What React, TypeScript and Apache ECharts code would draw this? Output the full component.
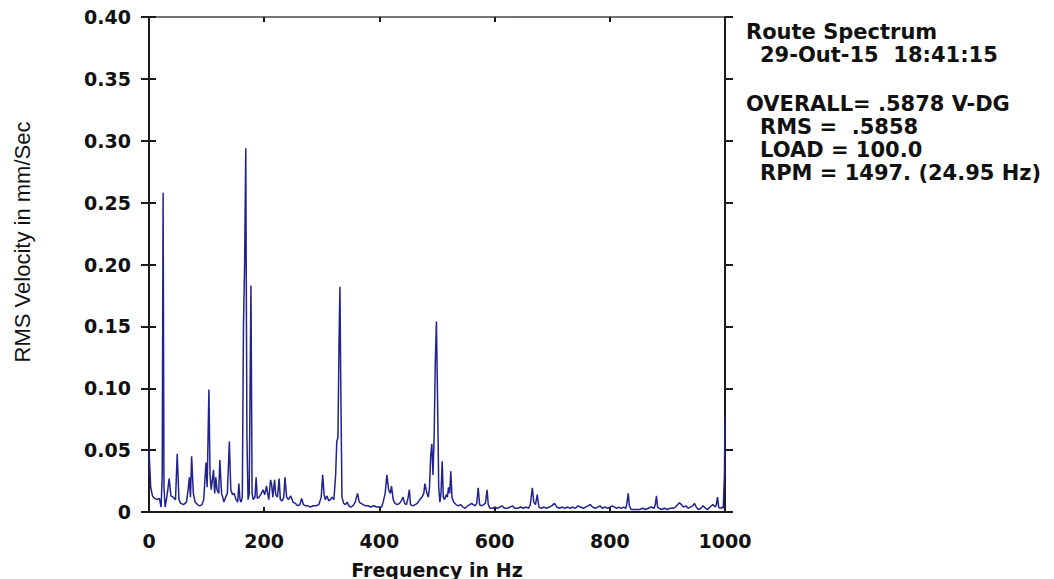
import React, { useEffect, useRef } from "react";
import * as echarts from "echarts";

const freqHz: number[] = [
  0, 3, 6, 10, 14, 18, 21, 23, 24.5, 26, 28, 31, 35, 38, 42, 46, 49, 52, 55, 60,
  65, 68, 70, 72, 74, 77, 80, 84, 88, 92, 95, 99, 101, 104, 106, 108, 112, 114, 116, 118,
  121, 123, 126, 128, 130, 133, 136, 139.5, 142, 145, 148, 151, 154, 156, 158, 160, 162, 164, 166, 168,
  170, 172, 174, 177, 179, 181, 184, 186, 188, 191, 194, 198, 201, 204, 206, 208, 211, 213, 215, 218,
  220, 223, 226, 228, 231, 234, 236, 239, 242, 246, 250, 254, 258, 262, 265, 268, 272, 276, 280, 285,
  290, 295, 299, 301.5, 304, 306, 309, 312, 315, 318, 321, 324, 326, 328, 330, 331.5, 333, 335, 338, 341,
  344, 347, 350, 354, 358, 362, 365, 368, 372, 376, 380, 385, 390, 395, 400, 404, 407, 410, 413, 416,
  419, 421, 424, 427, 431, 435, 438, 441, 444, 447, 450, 452, 454, 458, 462, 466, 470, 474, 477, 479,
  482, 485, 487, 489, 491, 493, 495, 497, 499, 501, 503, 505, 507, 509, 511, 513, 516, 518, 520, 522,
  524, 526, 529, 533, 537, 541, 545, 549, 553, 557, 560, 563, 566, 569, 571.5, 574, 577, 581, 584, 587,
  589, 592, 596, 600, 605, 609, 613, 617, 622, 627, 631, 635, 640, 645, 650, 655, 659, 662, 665.5, 668,
  671, 674, 677, 681, 686, 690, 695, 699, 704, 708, 713, 718, 722, 727, 731, 736, 740, 745, 749, 754,
  758, 762, 766, 770, 775, 779, 783, 787, 792, 796, 800, 804, 808, 812, 816, 820, 824, 828, 830, 832,
  834, 837, 842, 847, 852, 857, 862, 867, 872, 877, 879, 881, 883, 886, 890, 895, 900, 905, 910, 914,
  918, 921, 924, 928, 932, 936, 940, 944, 947, 950, 954, 958, 962, 966, 970, 974, 979, 983, 985, 987,
  989, 992, 995, 997, 999, 1000,
];

const rmsVelocity: number[] = [
  0.05, 0.02, 0.013, 0.011, 0.01, 0.011, 0.004, 0.03, 0.258, 0.02, 0.004, 0.012, 0.027, 0.013, 0.012, 0.01, 0.047, 0.01, 0.007, 0.006,
  0.008, 0.018, 0.028, 0.012, 0.045, 0.015, 0.008, 0.006, 0.005, 0.006, 0.01, 0.04, 0.02, 0.099, 0.03, 0.018, 0.034, 0.015, 0.028, 0.018,
  0.015, 0.042, 0.015, 0.012, 0.008, 0.012, 0.015, 0.057, 0.018, 0.014, 0.015, 0.01, 0.008, 0.023, 0.01, 0.008, 0.012, 0.15, 0.2, 0.294,
  0.06, 0.01, 0.015, 0.183, 0.015, 0.01, 0.012, 0.028, 0.011, 0.012, 0.014, 0.018, 0.014, 0.021, 0.015, 0.01, 0.026, 0.022, 0.012, 0.026,
  0.014, 0.012, 0.027, 0.01, 0.009, 0.012, 0.028, 0.012, 0.01, 0.013, 0.008, 0.007, 0.005, 0.006, 0.011, 0.006, 0.005, 0.005, 0.004, 0.005,
  0.005, 0.006, 0.012, 0.03, 0.014, 0.01, 0.013, 0.009, 0.01, 0.012, 0.01, 0.03, 0.057, 0.06, 0.14, 0.182, 0.1, 0.012, 0.007, 0.006,
  0.008, 0.005, 0.004, 0.005, 0.008, 0.015, 0.008, 0.007, 0.006, 0.005, 0.005, 0.004, 0.005, 0.004, 0.004, 0.004, 0.009, 0.015, 0.03, 0.018,
  0.015, 0.021, 0.01, 0.007, 0.006, 0.007, 0.009, 0.012, 0.007, 0.006, 0.012, 0.018, 0.006, 0.005, 0.006, 0.007, 0.01, 0.012, 0.015, 0.023,
  0.016, 0.012, 0.02, 0.045, 0.055, 0.03, 0.06, 0.12, 0.154, 0.09, 0.02, 0.008, 0.015, 0.041, 0.012, 0.01, 0.014, 0.012, 0.02, 0.015,
  0.033, 0.012, 0.008, 0.006, 0.005, 0.006, 0.004, 0.003, 0.005, 0.006, 0.007, 0.006, 0.005, 0.007, 0.0196, 0.006, 0.005, 0.006, 0.007, 0.018,
  0.006, 0.003, 0.003, 0.004, 0.003, 0.004, 0.005, 0.003, 0.003, 0.004, 0.005, 0.003, 0.003, 0.004, 0.003, 0.004, 0.003, 0.006, 0.0196, 0.008,
  0.006, 0.014, 0.004, 0.003, 0.004, 0.003, 0.004, 0.005, 0.007, 0.004, 0.003, 0.004, 0.003, 0.004, 0.003, 0.004, 0.003, 0.005, 0.004, 0.003,
  0.004, 0.005, 0.006, 0.004, 0.003, 0.004, 0.005, 0.003, 0.004, 0.003, 0.004, 0.005, 0.004, 0.003, 0.004, 0.003, 0.004, 0.003, 0.008, 0.015,
  0.005, 0.002, 0.002, 0.002, 0.002, 0.003, 0.002, 0.003, 0.004, 0.003, 0.006, 0.013, 0.004, 0.003, 0.002, 0.003, 0.002, 0.003, 0.003, 0.004,
  0.006, 0.0075, 0.006, 0.004, 0.005, 0.003, 0.004, 0.005, 0.007, 0.004, 0.002, 0.003, 0.005, 0.003, 0.002, 0.004, 0.006, 0.004, 0.006, 0.012,
  0.004, 0.003, 0.004, 0.003, 0.03, 0.076,
];

const infoLines: { text: string; x: number; y: number }[] = [
  { text: "Route Spectrum", x: 746, y: 32 },
  { text: "29-Out-15  18:41:15", x: 760, y: 55 },
  { text: "OVERALL= .5878 V-DG", x: 746, y: 104 },
  { text: "RMS =  .5858", x: 760, y: 127 },
  { text: "LOAD = 100.0", x: 760, y: 150 },
  { text: "RPM = 1497. (24.95 Hz)", x: 760, y: 173 },
];

const FONT = '"DejaVu Sans", "Liberation Sans", Arial, sans-serif';

export default function App() {
  const ref = useRef<HTMLDivElement>(null);
  useEffect(() => {
    if (!ref.current) return;
    const chart = echarts.init(ref.current, undefined, { renderer: "svg" });
    const yBase = {
      type: "value" as const,
      min: 0,
      max: 0.4,
      interval: 0.05,
      splitLine: { show: false },
    };
    const axisLineStyle = { color: "#1a1a1a", width: 2 };
    chart.setOption({
      animation: false,
      backgroundColor: "#ffffff",
      grid: {
        left: 149,
        right: 329,
        top: 17,
        bottom: 67,
        containLabel: false,
        outerBoundsMode: "none",
      },
      xAxis: [
        {
          type: "value",
          position: "bottom",
          min: 0,
          max: 1000,
          interval: 200,
          splitLine: { show: false },
          axisLine: { show: true, onZero: false, lineStyle: axisLineStyle },
          axisTick: { show: true, inside: true, length: 5, lineStyle: { color: "#1a1a1a", width: 2 } },
          axisLabel: {
            margin: 19,
            color: "#111",
            fontFamily: FONT,
            fontWeight: "bold",
            fontSize: 19,
            formatter: (v: number) => String(Math.round(v)),
          },
          name: "Frequency in Hz",
          nameLocation: "middle",
          nameGap: 48,
          nameTextStyle: { color: "#111", fontFamily: FONT, fontWeight: "bold", fontSize: 19 },
        },
        {
          type: "value",
          position: "top",
          min: 0,
          max: 1000,
          interval: 200,
          splitLine: { show: false },
          axisLine: { show: true, onZero: false, lineStyle: { color: "#444", width: 1.5 } },
          axisTick: { show: true, inside: true, length: 5, lineStyle: { color: "#1a1a1a", width: 2 } },
          axisLabel: { show: false },
        },
      ],
      yAxis: [
        {
          ...yBase,
          position: "left",
          axisLine: { show: true, onZero: false, lineStyle: axisLineStyle },
          axisTick: { show: true, inside: false, length: 7, lineStyle: { color: "#1a1a1a", width: 2 } },
          axisLabel: {
            margin: 18,
            color: "#111",
            fontFamily: FONT,
            fontWeight: "bold",
            fontSize: 19,
            formatter: (v: number) => (v === 0 ? "0" : v.toFixed(2)),
          },
        },
        {
          ...yBase,
          position: "left",
          axisLine: { show: false },
          axisTick: { show: true, inside: true, length: 7, lineStyle: { color: "#1a1a1a", width: 2 } },
          axisLabel: { show: false },
        },
        {
          ...yBase,
          position: "right",
          axisLine: { show: true, onZero: false, lineStyle: axisLineStyle },
          axisTick: { show: true, inside: false, length: 8, lineStyle: { color: "#1a1a1a", width: 2 } },
          axisLabel: { show: false },
        },
        {
          ...yBase,
          position: "right",
          axisLine: { show: false },
          axisTick: { show: true, inside: true, length: 8, lineStyle: { color: "#1a1a1a", width: 2 } },
          axisLabel: { show: false },
        },
      ],
      series: [
        {
          type: "line",
          xAxisIndex: 0,
          yAxisIndex: 0,
          showSymbol: false,
          symbol: "none",
          data: freqHz.map((f, i) => [f, rmsVelocity[i]]),
          lineStyle: { color: "#22228f", width: 1.5 },
          z: 1,
        },
      ],
      graphic: [
        {
          type: "text",
          x: 22,
          y: 242,
          rotation: Math.PI / 2,
          style: {
            text: "RMS Velocity in mm/Sec",
            fill: "#111",
            font: `22px "Liberation Sans", Arial, sans-serif`,
            align: "center",
            verticalAlign: "middle",
          },
        },
        ...infoLines.map((l) => ({
          type: "text",
          x: l.x,
          y: l.y,
          style: {
            text: l.text,
            fill: "#111",
            font: `bold 21px ${FONT}`,
            align: "left",
            verticalAlign: "middle",
          },
        })),
      ],
    });
    return () => chart.dispose();
  }, []);
  return (
    <div
      ref={ref}
      style={{ position: "fixed", left: 0, top: 0, width: 1054, height: 579, background: "#fff" }}
    />
  );
}
